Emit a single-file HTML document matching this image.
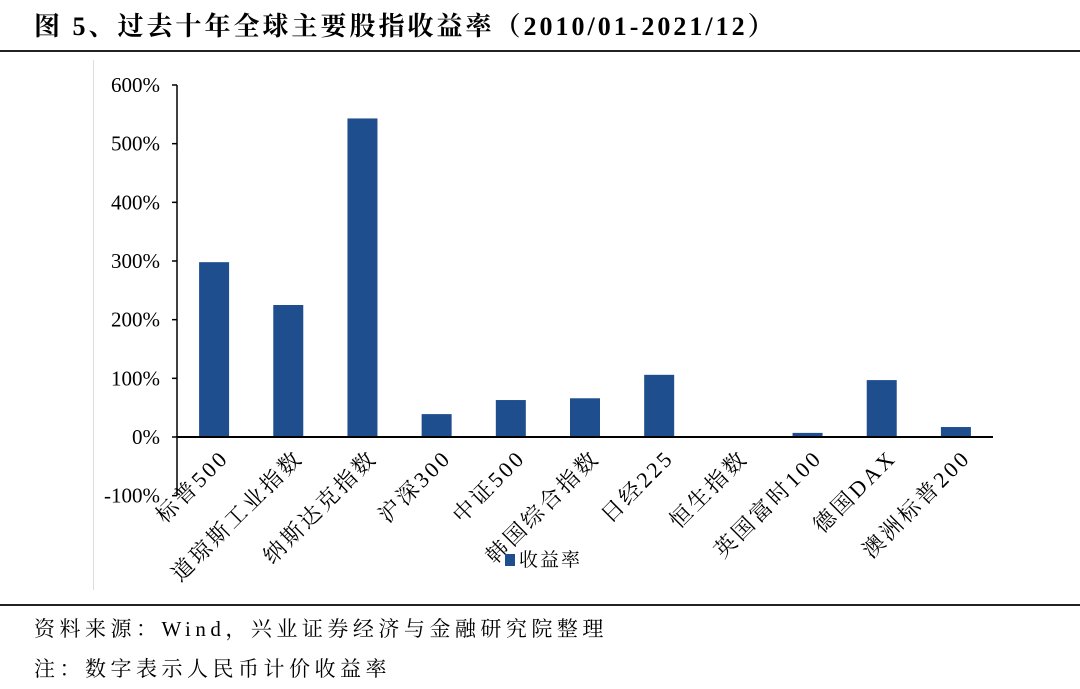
<!DOCTYPE html>
<html><head><meta charset="utf-8"><style>
body{margin:0;background:#fff;width:1080px;height:689px;overflow:hidden;position:relative;font-family:"Liberation Serif","Noto Serif CJK SC",serif;}
.t{position:absolute;white-space:nowrap;color:#000}
</style></head><body>
<div class="t" style="left:34px;top:6px;font-size:26px;font-weight:bold;letter-spacing:3px;">图 5、过去十年全球主要股指收益率（2010/01-2021/12）</div>
<div style="position:absolute;left:0;top:50px;width:1080px;height:2px;background:#222"></div>
<div style="position:absolute;left:93px;top:60px;width:1px;height:530px;background:#ddd"></div>
<div style="position:absolute;left:0;top:604px;width:1080px;height:2px;background:#222"></div>
<div class="t" style="left:34px;top:613px;font-size:21px;letter-spacing:4.5px;">资料来源：Wind，兴业证券经济与金融研究院整理</div>
<div class="t" style="left:34px;top:653px;font-size:21px;letter-spacing:4.5px;">注：数字表示人民币计价收益率</div>
<svg id="chart" width="1080" height="689" style="position:absolute;left:0;top:0"></svg>
<script>
const categories=["标普500","道琼斯工业指数","纳斯达克指数","沪深300","中证500","韩国综合指数","日经225","恒生指数","英国富时100","德国DAX","澳洲标普200"];
const values=[298,225,543,39,63,66,106,-1,7,97,17];
const ticks=[-100,0,100,200,300,400,500,600];
const NS="http://www.w3.org/2000/svg";
const svg=document.getElementById('chart');
const x0=177,x1=993,yTop=85,yZero=437,per=(yZero-yTop)/600;
const y=v=>yZero-v*per;
const band=(x1-x0)/categories.length;
const xc=i=>x0+band*(i+0.5);
function mk(t,a){const e=document.createElementNS(NS,t);for(const k in a)e.setAttribute(k,a[k]);svg.appendChild(e);return e;}
ticks.forEach(v=>{
 const l=mk('line',{x1:x0-5,x2:x0,y1:y(v),y2:y(v),stroke:'#000','stroke-width':1.5});
 
 
 const t=mk('text',{x:x0-17,y:y(v)+7,'text-anchor':'end','font-size':21,'font-family':'Liberation Serif, serif'});
 t.textContent=v+'%';
 
 
});
values.forEach((v,i)=>{
 const top=Math.min(y(v),yZero),h=Math.abs(y(v)-yZero);
 const r=mk('rect',{x:xc(i)-15,y:top,width:30,height:h,fill:'#1f4e8f'});
 
 
});
const ya=mk('line',{x1:x0,x2:x0,y1:yTop,y2:y(-100),stroke:'#000','stroke-width':1.5});


const xa=mk('line',{x1:x0,x2:x1,y1:yZero,y2:yZero,stroke:'#000','stroke-width':2});


categories.forEach((c,i)=>{
 const tx=xc(i)+16,ty=yZero+22;
 const t=mk('text',{x:tx,y:ty,'text-anchor':'end','font-size':22,'letter-spacing':3,'font-family':'Liberation Serif, Noto Serif CJK SC, serif',transform:`rotate(-45 ${tx} ${ty})`});
 t.textContent=c;
 
 
});
const lg=mk('rect',{x:505,y:554,width:10,height:12,fill:'#1f4e8f'});


const lt=mk('text',{x:519,y:566,'font-size':19,'letter-spacing':2,'font-family':'Noto Serif CJK SC, serif'});
lt.textContent='收益率';


</script>
</body></html>
